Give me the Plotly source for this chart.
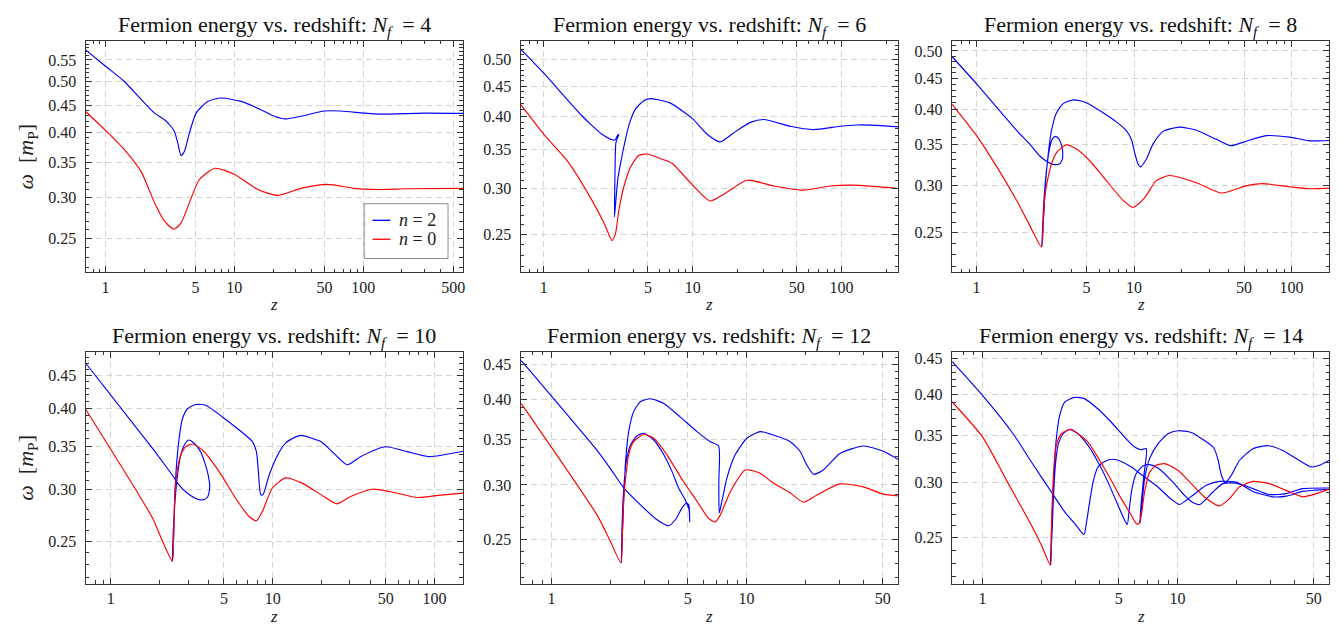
import math
import plotly.graph_objects as go

W, H = 1340, 624
FONT = "Liberation Serif, Times New Roman, serif"
BLUE = "rgb(0,0,255)"
RED = "rgb(255,0,0)"

# ---------------- data (z, omega in m_P) ----------------
# N_f = 4
z_b4 = [0.70, 1.0, 1.40, 1.89, 2.40, 2.87, 3.23, 3.43, 3.64, 3.86, 4.10, 4.48, 5.05, 6.21, 7.88, 11.3, 16.1,
        20.4, 25.1, 32.9, 49.9, 67.1, 101.8, 137, 297, 600]
w_b4 = [0.575, 0.535, 0.500, 0.462, 0.435, 0.4225, 0.410, 0.401, 0.381, 0.3606, 0.3675, 0.3985, 0.435, 0.458,
        0.465, 0.458, 0.4415, 0.429, 0.424, 0.429, 0.439, 0.439, 0.435, 0.433, 0.435, 0.4345]
z_r4 = [0.70, 1.0, 1.404, 1.89, 2.40, 2.87, 3.39, 3.86, 4.48, 5.35, 7.08, 10.0, 15.2, 21.7, 32.9, 52.9, 85.2,
        129, 221, 600]
w_r4 = [0.438, 0.403, 0.370, 0.336, 0.293, 0.270, 0.2605, 0.268, 0.293, 0.3245, 0.341, 0.332, 0.3105, 0.3025,
        0.312, 0.3175, 0.312, 0.3105, 0.3115, 0.312]

# N_f = 6
z_b6 = [0.70, 1.0, 1.40, 1.807, 2.11, 2.46, 2.87, 3.02, 3.10, 3.19, 3.05, 3.02, 2.996, 2.98, 3.06, 3.15, 3.27,
        3.44, 3.72, 4.12, 4.69, 5.25, 7.08, 10.0, 12.5, 15.3, 18.8, 24.4, 30.0, 45.2, 64.9, 98, 127, 173, 245]
w_b6 = [0.521, 0.474, 0.430, 0.400, 0.385, 0.372, 0.364, 0.364, 0.369, 0.372, 0.360, 0.344, 0.3015, 0.268,
        0.290, 0.3135, 0.3305, 0.353, 0.385, 0.411, 0.425, 0.4285, 0.421, 0.3955, 0.372, 0.361, 0.374, 0.390,
        0.3945, 0.384, 0.379, 0.384, 0.386, 0.3855, 0.383]
z_r6 = [0.70, 1.0, 1.434, 2.06, 2.53, 2.87, 3.02, 3.19, 3.44, 3.81, 4.34, 4.93, 6.22, 7.26, 9.65, 13.1, 16.1,
        23.2, 35.0, 55.6, 83.9, 120, 245]
w_r6 = [0.4185, 0.372, 0.335, 0.289, 0.262, 0.244, 0.250, 0.275, 0.3015, 0.326, 0.342, 0.344, 0.337, 0.3315,
        0.307, 0.2855, 0.293, 0.310, 0.303, 0.298, 0.303, 0.304, 0.300]

# N_f = 8
z_b8 = [0.70, 1.0, 1.476, 1.794, 2.178, 2.52, 2.85, 3.06, 3.35, 3.51, 3.51, 3.35, 3.17, 3.02, 2.89, 2.78,
        2.67, 2.60, 2.65, 2.73, 2.85, 2.99, 3.22, 3.55, 4.14, 4.98, 6.36, 7.72, 8.94, 9.61, 10.09, 10.6, 11.0,
        11.97, 13.2, 15.3, 19.5, 24.9, 33.3, 41.4, 51.6, 69.1, 97.1, 130, 180]
w_b8 = [0.489, 0.441, 0.392, 0.3695, 0.3505, 0.335, 0.327, 0.3245, 0.325, 0.331, 0.344, 0.357, 0.361, 0.357,
        0.342, 0.317, 0.279, 0.238, 0.259, 0.297, 0.337, 0.369, 0.395, 0.409, 0.415, 0.4105, 0.395, 0.3815,
        0.369, 0.357, 0.3395, 0.325, 0.3215, 0.331, 0.3505, 0.368, 0.374, 0.3695, 0.357, 0.3485, 0.3545, 0.362,
        0.360, 0.355, 0.3555]
z_r8 = [0.70, 1.0, 1.339, 1.794, 2.178, 2.584, 2.65, 2.71, 2.85, 2.99, 3.22, 3.72, 4.31, 5.23, 6.67, 8.52,
        9.86, 11.7, 13.85, 16.8, 24.9, 35.8, 51.6, 65.8, 97.1, 130, 180]
w_r8 = [0.408, 0.362, 0.322, 0.283, 0.257, 0.2368, 0.259, 0.286, 0.309, 0.325, 0.3395, 0.3495, 0.344, 0.329,
        0.305, 0.283, 0.2755, 0.286, 0.305, 0.311, 0.3025, 0.291, 0.299, 0.3015, 0.298, 0.2958, 0.2965]

# N_f = 10
z_b10 = [0.70, 1.809, 2.085, 2.40, 2.64, 2.90, 3.35, 3.68, 3.95, 4.08, 3.95, 3.59, 3.27, 3.02, 2.84, 2.70,
         2.58, 2.50, 2.43, 2.40, 2.44, 2.48, 2.545, 2.64, 2.77, 2.975, 3.35, 3.86, 4.89, 6.20, 7.49, 7.93, 8.16,
         8.43, 8.72, 9.50, 10.7, 12.0, 13.9, 14.9, 19.8, 23.9, 28.9, 34.9, 49.8, 67.8, 92.3, 150]
w_b10 = [0.470, 0.3475, 0.3315, 0.316, 0.305, 0.298, 0.291, 0.2895, 0.292, 0.302, 0.320, 0.3435, 0.354, 0.358,
         0.3515, 0.339, 0.316, 0.291, 0.259, 0.233, 0.2513, 0.291, 0.3275, 0.360, 0.386, 0.400, 0.406, 0.405,
         0.3885, 0.371, 0.356, 0.3435, 0.320, 0.295, 0.295, 0.316, 0.339, 0.354, 0.362, 0.364, 0.356, 0.3415,
         0.328, 0.3375, 0.3495, 0.3435, 0.3375, 0.344]
z_r10 = [0.70, 1.809, 2.085, 2.40, 2.44, 2.48, 2.545, 2.70, 2.90, 3.19, 3.68, 4.67, 5.91, 7.15, 7.93, 8.64,
         9.96, 12.0, 15.3, 20.7, 24.8, 30.3, 41.2, 53.5, 78.2, 109, 150]
w_r10 = [0.399, 0.2715, 0.250, 0.233, 0.2526, 0.291, 0.316, 0.339, 0.3495, 0.353, 0.3455, 0.320, 0.291, 0.273,
         0.269, 0.278, 0.302, 0.313, 0.307, 0.293, 0.2855, 0.293, 0.3007, 0.298, 0.292, 0.2945, 0.2965]

# N_f = 12
z_b12 = [0.70, 1.714, 2.006, 2.35, 2.86, 3.48, 3.99, 4.32, 4.67, 4.92, 5.06, 5.12, 5.08, 4.86, 4.49, 4.15,
         3.77, 3.35, 2.97, 2.75, 2.54, 2.42, 2.35, 2.30, 2.284, 2.31, 2.35, 2.40, 2.49, 2.64, 2.86, 3.22, 3.77,
         4.58, 5.58, 6.53, 7.20, 7.22, 7.26, 7.49, 7.94, 8.76, 10.06, 11.77, 13.5, 16.8, 18.9, 20.4, 22.1,
         24.8, 30.2, 39.8, 50.4, 61]
w_b12 = [0.456, 0.337, 0.317, 0.297, 0.2805, 0.2668, 0.2615, 0.2668, 0.2775, 0.282, 0.2805, 0.265, 0.276,
         0.285, 0.297, 0.314, 0.332, 0.349, 0.357, 0.354, 0.343, 0.3245, 0.297, 0.2595, 0.2308, 0.2536, 0.2868,
         0.3245, 0.359, 0.384, 0.397, 0.401, 0.3945, 0.377, 0.359, 0.347, 0.342, 0.303, 0.273, 0.284, 0.307,
         0.332, 0.351, 0.359, 0.3555, 0.347, 0.3355, 0.321, 0.311, 0.3155, 0.3335, 0.342, 0.336, 0.326]
z_r12 = [0.70, 1.714, 2.006, 2.27, 2.31, 2.35, 2.39, 2.49, 2.64, 2.97, 3.35, 3.91, 4.77, 5.58, 6.40, 6.92,
         7.34, 8.26, 9.86, 11.77, 13.5, 16.8, 19.6, 23.0, 30.2, 39.8, 50.4, 61]
w_r12 = [0.3945, 0.271, 0.2481, 0.2308, 0.2536, 0.2868, 0.303, 0.332, 0.347, 0.3555, 0.351, 0.332, 0.303,
         0.284, 0.268, 0.2648, 0.271, 0.293, 0.3155, 0.312, 0.303, 0.292, 0.283, 0.290, 0.301, 0.298, 0.2908,
         0.289]

# N_f = 14 (n = 2 drawn as two strands)
z_b14a = [0.70, 1.0, 1.436, 1.782, 2.006, 2.257, 2.641, 2.972, 3.318, 3.41, 3.547, 3.69, 3.913, 4.234, 4.672,
          5.154, 5.8, 6.785, 7.943, 9.294, 10.25, 11.1, 12.0, 14.05, 16.4, 20.0, 24.4, 30.9, 36.1, 43.9, 61]
w_b14a = [0.445, 0.3985, 0.3515, 0.3205, 0.305, 0.2905, 0.2721, 0.262, 0.2527, 0.262, 0.2812, 0.300, 0.3152,
          0.321, 0.3233, 0.321, 0.3152, 0.305, 0.2953, 0.2836, 0.2788, 0.2827, 0.2873, 0.2969, 0.3007, 0.300,
          0.291, 0.2859, 0.2865, 0.291, 0.293]
z_b14b = [61, 53.5, 48.5, 42.2, 34.7, 29.1, 24.4, 20.8, 18.9, 17.6, 16.8, 16.1, 15.3, 13.5, 11.77, 10.06, 8.94,
          7.943, 7.198, 6.785, 6.577, 6.423, 6.524, 6.73, 6.921, 6.524, 6.03, 5.36, 4.58, 3.913, 3.344, 2.972,
          2.641, 2.489, 2.366, 2.32, 2.275, 2.231, 2.275, 2.311, 2.366, 2.441, 2.59, 2.802, 3.09, 3.477, 3.913,
          4.404, 4.955, 5.36, 5.532, 5.663, 5.846, 6.152, 6.656, 7.198, 7.943, 9.294, 10.88, 12.0, 13.0, 15.2,
          17.1, 20.0, 24.4, 29.6, 36.1, 43.9, 61]
w_b14b = [0.323, 0.317, 0.3153, 0.322, 0.3328, 0.338, 0.3347, 0.322, 0.3068, 0.2995, 0.3068, 0.324, 0.336,
          0.345, 0.353, 0.355, 0.3515, 0.340, 0.324, 0.3035, 0.2781, 0.262, 0.2812, 0.3068, 0.3347, 0.3336,
          0.3365, 0.3476, 0.365, 0.3812, 0.394, 0.396, 0.3898, 0.373, 0.3347, 0.300, 0.2692, 0.2286, 0.2549,
          0.2842, 0.317, 0.3383, 0.3515, 0.3565, 0.3515, 0.3383, 0.3205, 0.300, 0.2781, 0.2648, 0.2611, 0.2751,
          0.2937, 0.3085, 0.3163, 0.3177, 0.3141, 0.3017, 0.2873, 0.2806, 0.2788, 0.2905, 0.2985, 0.299, 0.2937,
          0.2881, 0.2889, 0.2937, 0.2943]
z_r14 = [0.70, 1.0, 1.327, 1.782, 2.006, 2.231, 2.257, 2.284, 2.329, 2.393, 2.539, 2.835, 3.152, 3.477, 4.234,
         5.154, 5.8, 6.152, 6.323, 6.524, 6.785, 7.198, 7.787, 8.594, 10.06, 11.77, 13.77, 16.4, 18.5, 20.8,
         24.4, 29.6, 36.1, 43.9, 51.4, 61]
w_r14 = [0.390, 0.348, 0.302, 0.2605, 0.244, 0.2286, 0.2549, 0.2842, 0.317, 0.3383, 0.3515, 0.3565, 0.350,
         0.342, 0.3135, 0.2842, 0.2692, 0.262, 0.2615, 0.2692, 0.2905, 0.310, 0.317, 0.3187, 0.3118, 0.2985,
         0.2857, 0.2775, 0.2842, 0.2953, 0.3007, 0.2985, 0.292, 0.2859, 0.2889, 0.2937]

nf_values = [4, 6, 8, 10, 12, 14]
x_tick_sets = [[1, 5, 10, 50, 100, 500], [1, 5, 10, 50, 100], [1, 5, 10, 50, 100],
               [1, 5, 10, 50, 100], [1, 5, 10, 50], [1, 5, 10, 50]]
y_tick_sets = [[0.25, 0.30, 0.35, 0.40, 0.45, 0.50, 0.55], [0.25, 0.30, 0.35, 0.40, 0.45, 0.50],
               [0.25, 0.30, 0.35, 0.40, 0.45, 0.50], [0.25, 0.30, 0.35, 0.40, 0.45],
               [0.25, 0.30, 0.35, 0.40, 0.45], [0.25, 0.30, 0.35, 0.40, 0.45]]
x_ranges = [(0.70, 596), (0.697, 241), (0.697, 174), (0.698, 150), (0.694, 60.2), (0.697, 60.1)]
y_ranges = [(0.2153, 0.599), (0.215, 0.5395), (0.215, 0.520), (0.215, 0.4898), (0.215, 0.470), (0.215, 0.460)]
legend_labels = ["<i>n</i> = 2", "<i>n</i> = 0"]

blue_sets = [[(z_b4, w_b4)], [(z_b6, w_b6)], [(z_b8, w_b8)], [(z_b10, w_b10)], [(z_b12, w_b12)],
             [(z_b14a, w_b14a), (z_b14b, w_b14b)]]
red_sets = [(z_r4, w_r4), (z_r6, w_r6), (z_r8, w_r8), (z_r10, w_r10), (z_r12, w_r12), (z_r14, w_r14)]

# ---------------- layout geometry (pixels) ----------------
cols_px = [(77.7, 455.7), (513.3, 891.7), (945.3, 1323.3)]
rows_px = [(30.7, 263.3), (342.7, 575.7)]

fig = go.Figure()
annotations = []
shapes = []
layout = {}

minor_x_all = [0.7, 0.8, 0.9, 2, 3, 4, 6, 7, 8, 9, 20, 30, 40, 60, 70, 80, 90, 200, 300, 400, 600, 700]
FRAME = "#333333"
GRID = "#d4d4d4"
LINE_STYLE = dict(width=1.15, shape="spline", smoothing=0.6)

for i in range(6):
    r, c = divmod(i, 3)
    k = "" if i == 0 else str(i + 1)
    x0, x1 = cols_px[c]
    yt, yb = rows_px[r]
    xd = [x0 / W, x1 / W]
    yd = [1 - yb / H, 1 - yt / H]
    xr = x_ranges[i]
    yr = y_ranges[i]
    xt = x_tick_sets[i]
    ytk = y_tick_sets[i]
    minor_x = [v for v in minor_x_all if xr[0] <= v <= xr[1]]
    minor_y = [round(0.01 * j, 2) for j in range(21, 61)]
    minor_y = [v for v in minor_y if yr[0] <= v <= yr[1] and v not in ytk]

    layout["xaxis" + k] = dict(
        type="log", domain=xd, range=[math.log10(xr[0]), math.log10(xr[1])], anchor="y" + k,
        showline=True, linecolor=FRAME, linewidth=1.3, mirror="allticks",
        ticks="inside", ticklen=6, tickwidth=1, tickcolor=FRAME,
        tickvals=xt, ticktext=[str(v) for v in xt],
        tickfont=dict(family=FONT, size=16, color="#222"), ticklabelstandoff=0,
        showgrid=True, gridcolor=GRID, griddash="6px,4px", gridwidth=1, zeroline=False,
        minor=dict(ticks="inside", ticklen=3.5, tickwidth=1, tickcolor=FRAME, tickvals=minor_x, showgrid=False),
    )
    layout["yaxis" + k] = dict(
        type="log", domain=yd, range=[math.log10(yr[0]), math.log10(yr[1])], anchor="x" + k,
        showline=True, linecolor=FRAME, linewidth=1.3, mirror="allticks",
        ticks="inside", ticklen=6, tickwidth=1, tickcolor=FRAME,
        tickvals=ytk, ticktext=["%.2f" % v for v in ytk],
        tickfont=dict(family=FONT, size=16, color="#222"), ticklabelstandoff=5,
        showgrid=True, gridcolor=GRID, griddash="6px,4px", gridwidth=1, zeroline=False,
        minor=dict(ticks="inside", ticklen=3.5, tickwidth=1, tickcolor=FRAME, tickvals=minor_y, showgrid=False),
    )

    for j, (zz, ww) in enumerate(blue_sets[i]):
        fig.add_trace(go.Scatter(
            x=zz, y=ww, mode="lines", line=dict(color=BLUE, **LINE_STYLE),
            name=legend_labels[0], showlegend=False,
            xaxis="x" + k, yaxis="y" + k, hoverinfo="skip"))
    zz, ww = red_sets[i]
    fig.add_trace(go.Scatter(
        x=zz, y=ww, mode="lines", line=dict(color=RED, **LINE_STYLE),
        name=legend_labels[1], showlegend=False,
        xaxis="x" + k, yaxis="y" + k, hoverinfo="skip"))

    # panel title (box top at the top of its row band)
    annotations.append(dict(
        x=(x0 + x1) / 2 / W, y=1 - (yt - 30.7) / H, xref="paper", yref="paper",
        xanchor="center", yanchor="top", showarrow=False,
        text="Fermion energy vs. redshift: <i>N</i><sub><i>f</i></sub>  = %d" % nf_values[i],
        font=dict(family=FONT, size=22, color="#111")))
    # x-axis title
    annotations.append(dict(
        x=(x0 + x1) / 2 / W, y=1 - (yb + 32.5) / H, xref="paper", yref="paper",
        xanchor="center", yanchor="middle", showarrow=False, text="<i>z</i>",
        font=dict(family=FONT, size=17, color="#222")))
    if c == 0:
        annotations.append(dict(
            x=19 / W, y=1 - (yt + yb) / 2 / H, xref="paper", yref="paper",
            xanchor="center", yanchor="middle", showarrow=False, textangle=-90,
            text="<i>ω</i>  [<i>m</i><sub>P</sub>]",
            font=dict(family=FONT, size=22, color="#222")))

# legend of the first panel (box, line samples, labels)
lg_x0, lg_x1, lg_y0, lg_y1 = 356.7, 440.7, 194.3, 249.3
shapes.append(dict(type="rect", xref="paper", yref="paper",
                   x0=lg_x0 / W, x1=lg_x1 / W, y0=1 - lg_y1 / H, y1=1 - lg_y0 / H,
                   line=dict(color="#8c8c8c", width=1), fillcolor="white", layer="above"))
for label, col, yy in [(legend_labels[0], BLUE, 211.0), (legend_labels[1], RED, 230.0)]:
    shapes.append(dict(type="line", xref="paper", yref="paper",
                       x0=365 / W, x1=383 / W, y0=1 - yy / H, y1=1 - yy / H,
                       line=dict(color=col, width=1.3), layer="above"))
    annotations.append(dict(x=390 / W, y=1 - yy / H, xref="paper", yref="paper",
                            xanchor="left", yanchor="middle", showarrow=False, text=label,
                            font=dict(family=FONT, size=18, color="#222")))

fig.update_layout(
    width=W, height=H, autosize=False,
    margin=dict(l=0, r=0, t=0, b=0),
    paper_bgcolor="white", plot_bgcolor="white",
    showlegend=False,
    annotations=annotations,
    shapes=shapes,
    **layout,
)

fig.write_html("out.html")
